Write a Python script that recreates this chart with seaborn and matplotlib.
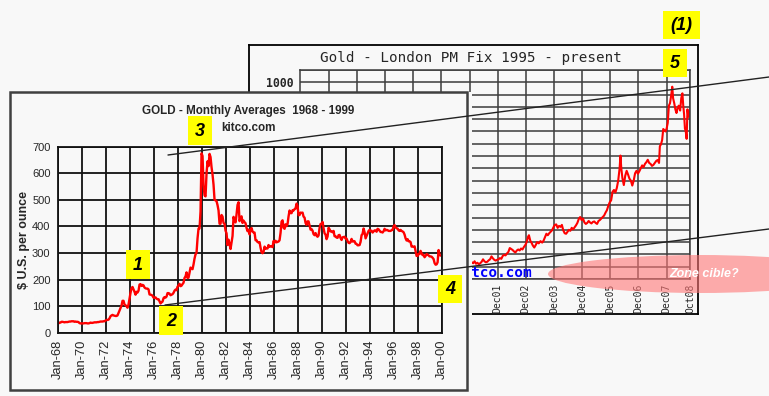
import numpy as np
import seaborn as sns
import matplotlib.pyplot as plt
from matplotlib.patches import Rectangle, Ellipse

# left chart: kitco monthly averages, Jan 1968 - Dec 1999 ($/oz)
gold_1968_1979 = [
    35, 35, 38, 38, 41, 41, 40, 39, 40, 40, 40, 41,
    42, 42, 43, 43, 43, 41, 42, 41, 41, 40, 36, 35,
    35, 35, 35, 36, 36, 36, 35, 35, 36, 38, 37, 37,
    38, 39, 39, 39, 40, 40, 41, 42, 42, 42, 43, 43,
    46, 48, 48, 49, 54, 62, 65, 67, 65, 64, 63, 63,
    65, 74, 84, 91, 102, 120, 120, 106, 103, 100, 94, 106,
    129, 150, 168, 172, 163, 154, 143, 154, 151, 158, 181, 183,
    176, 180, 178, 170, 167, 166, 166, 163, 144, 143, 142, 139,
    132, 131, 133, 128, 126, 126, 118, 110, 114, 117, 130, 134,
    132, 136, 149, 149, 147, 141, 143, 145, 150, 158, 162, 160,
    173, 178, 184, 175, 177, 183, 188, 206, 212, 227, 206, 207,
    227, 245, 242, 239, 257, 279, 295, 301, 355, 392, 392, 456,
]
gold_1980_1989 = [
    675, 665, 555, 517, 513, 600, 645, 627, 673, 661, 623, 595,
    557, 500, 498, 495, 480, 460, 410, 410, 443, 437, 413, 410,
    384, 374, 330, 350, 334, 315, 340, 364, 436, 422, 415, 445,
    481, 491, 420, 432, 438, 413, 422, 416, 412, 394, 382, 388,
    370, 386, 394, 381, 377, 377, 348, 348, 341, 340, 341, 320,
    303, 299, 304, 324, 316, 317, 317, 330, 323, 325, 325, 322,
    345, 339, 346, 340, 342, 343, 348, 376, 418, 423, 395, 391,
    408, 401, 409, 438, 460, 450, 450, 461, 460, 465, 467, 486,
    477, 442, 443, 452, 451, 452, 437, 433, 413, 406, 419, 419,
    404, 388, 390, 384, 371, 367, 375, 365, 361, 366, 394, 409,
]
gold_1990_1999 = [
    410, 417, 393, 374, 369, 352, 362, 395, 389, 381, 381, 378,
    383, 363, 363, 358, 357, 367, 368, 356, 349, 359, 360, 361,
    354, 354, 345, 338, 337, 341, 353, 343, 345, 344, 335, 334,
    329, 329, 330, 342, 367, 372, 392, 378, 355, 364, 374, 383,
    387, 382, 384, 377, 381, 385, 385, 380, 391, 389, 384, 379,
    379, 377, 382, 391, 385, 387, 386, 383, 383, 383, 386, 387,
    400, 405, 396, 393, 392, 385, 383, 387, 383, 381, 378, 369,
    355, 347, 352, 344, 344, 341, 324, 324, 323, 325, 306, 289,
    289, 297, 296, 308, 299, 292, 293, 284, 289, 296, 294, 291,
    287, 287, 286, 282, 277, 262, 256, 257, 265, 311, 293, 290,
]
left_years = list(range(1968, 2001, 2))
left_labels = ['Jan-%02d' % (y % 100) for y in left_years]

# right chart: London PM fix, 1995 - Oct 2008
fix_2000 = [284, 300, 286, 280, 275, 286, 282, 275, 273, 270, 266, 272]
fix_recent_time = [
    2001.00, 2001.05, 2001.10, 2001.15, 2001.20, 2001.25, 2001.30, 2001.35, 2001.40, 2001.45,
    2001.50, 2001.55, 2001.60, 2001.65, 2001.70, 2001.75, 2001.80, 2001.85, 2001.90, 2001.95,
    2002.00, 2002.05, 2002.10, 2002.15, 2002.20, 2002.25, 2002.30, 2002.35, 2002.40, 2002.45,
    2002.50, 2002.55, 2002.60, 2002.65, 2002.70, 2002.75, 2002.80, 2002.85, 2002.90, 2002.95,
    2003.00, 2003.03, 2003.08, 2003.12, 2003.17, 2003.22, 2003.27, 2003.32, 2003.38, 2003.44,
    2003.50, 2003.55, 2003.60, 2003.65, 2003.70, 2003.75, 2003.80, 2003.85, 2003.90, 2003.95,
    2004.00, 2004.05, 2004.10, 2004.15, 2004.20, 2004.25, 2004.30, 2004.35, 2004.40, 2004.45,
    2004.50, 2004.55, 2004.60, 2004.65, 2004.70, 2004.75, 2004.80, 2004.85, 2004.90, 2004.95,
    2005.00, 2005.05, 2005.10, 2005.15, 2005.20, 2005.25, 2005.30, 2005.35, 2005.40, 2005.45,
    2005.50, 2005.55, 2005.60, 2005.65, 2005.70, 2005.75, 2005.80, 2005.85, 2005.90, 2005.95,
    2006.00, 2006.05, 2006.10, 2006.15, 2006.20, 2006.25, 2006.28, 2006.31, 2006.35, 2006.40,
    2006.45, 2006.50, 2006.55, 2006.60, 2006.65, 2006.70, 2006.75, 2006.80, 2006.85, 2006.90,
    2006.95, 2007.00, 2007.05, 2007.10, 2007.15, 2007.20, 2007.25, 2007.30, 2007.35, 2007.40,
    2007.45, 2007.50, 2007.55, 2007.60, 2007.65, 2007.68, 2007.72, 2007.76, 2007.80, 2007.84,
    2007.88, 2007.92, 2007.96, 2008.00, 2008.04, 2008.08, 2008.12, 2008.15, 2008.19, 2008.23,
    2008.27, 2008.31, 2008.35, 2008.40, 2008.44, 2008.48, 2008.51, 2008.54, 2008.57, 2008.60,
    2008.63, 2008.66, 2008.69, 2008.71,
]
fix_recent_price = [
    268, 264, 272, 262, 266, 260, 264, 270, 280, 272,
    268, 270, 276, 280, 292, 284, 278, 275, 278, 280,
    285, 282, 294, 298, 296, 304, 310, 326, 322, 318,
    312, 308, 316, 320, 316, 324, 320, 330, 338, 350,
    372, 378, 355, 348, 336, 328, 338, 350, 345, 354,
    348, 356, 370, 384, 378, 386, 392, 398, 410, 420,
    422, 408, 416, 412, 420, 398, 386, 384, 392, 400,
    396, 408, 402, 410, 418, 428, 444, 452, 440, 446,
    430, 424, 428, 436, 430, 426, 432, 434, 428, 424,
    436, 440, 446, 452, 458, 470, 480, 498, 512, 520,
    555, 562, 552, 570, 600, 650, 702, 650, 610, 582,
    620, 640, 625, 608, 600, 580, 600, 630, 640, 628,
    638, 650, 662, 655, 668, 675, 685, 672, 668, 660,
    664, 672, 680, 684, 672, 740, 748, 765, 810, 805,
    800, 812, 835, 905, 915, 945, 982, 935, 915, 890,
    875, 895, 905, 885, 935, 955, 905, 870, 812, 800,
    770, 890, 860, 880,
]
fix_tick_pos = [1995.92 + k for k in range(13)] + [2008.75]
fix_tick_labels = ['Dec%02d' % ((95 + k) % 100) for k in range(13)] + ['Oct08']

W, H = 769, 396
BG = '#f8f8f8'
MONO = 'DejaVu Sans Mono'


def rect(x0, y0, x1, y1):
    # pixel box, origin top-left -> figure fraction
    return [x0 / W, 1 - y1 / H, (x1 - x0) / W, (y1 - y0) / H]


sns.set_style('white')
plt.rcParams['font.family'] = ['Liberation Sans', 'DejaVu Sans']

fig = plt.figure(figsize=(W / 100, H / 100), dpi=100, facecolor=BG)

# ---------------- right chart (behind) ----------------
frame_r = fig.add_axes(rect(249, 45, 698, 314))
frame_r.set_facecolor(BG)
frame_r.set_xticks([])
frame_r.set_yticks([])
for s in frame_r.spines.values():
    s.set_color('black')
    s.set_linewidth(1.3)
fig.text(471 / W, 1 - 58 / H, 'Gold - London PM Fix 1995 - present',
         ha='center', va='center', family=MONO, size=10.3)

ax_r = fig.add_axes(rect(300, 70, 690, 279))
ax_r.set_facecolor('none')
fix_time = list(1995 + np.arange(72) / 12) + fix_recent_time
fix_price = gold_1990_1999[60:] + fix_2000 + fix_recent_price
sns.lineplot(x=fix_time, y=fix_price, ax=ax_r, color='red', lw=1.5)
ax_r.set_xlim(1994.9, 2008.75)
ax_r.set_ylim(200, 1050)
yt = list(range(200, 1051, 50))
ax_r.set_yticks(yt)
# only the top label shows; the rest sit behind the 1968-1999 chart
ax_r.set_yticklabels(['1000' if v == 1000 else '' for v in yt],
                     family=MONO, size=8.3, weight='bold')
ax_r.set_xticks(fix_tick_pos)
ax_r.set_xticklabels(fix_tick_labels, rotation=90, family=MONO, size=7.0)
ax_r.grid(True, color='#3c3c3c', lw=1.1)
ax_r.tick_params(length=3, width=1, color='#3c3c3c', pad=1.5)
ax_r.tick_params(axis='x', length=2, pad=1)
for s in ax_r.spines.values():
    s.set_color('#3c3c3c')
    s.set_linewidth(1.1)
ax_r.set_xlabel('')
ax_r.set_ylabel('')
ax_r.text(0.595, 0.028, 'kitco.com', transform=ax_r.transAxes, ha='right',
          va='center', color='blue', family=MONO, size=10.3, weight='bold')

# ---------------- left chart (front) ----------------
frame_l = fig.add_axes(rect(10, 92, 472, 390))
frame_l.set_facecolor(BG)
frame_l.set_xticks([])
frame_l.set_yticks([])
for s in frame_l.spines.values():
    s.set_visible(False)
frame_l.add_patch(Rectangle((0, 0), (467 - 10) / (472 - 10), 1, transform=frame_l.transAxes,
                            fill=False, ec='#404040', lw=1.8, clip_on=False))
fig.text(248 / W, 1 - 111 / H, 'GOLD - Monthly Averages  1968 - 1999',
         ha='center', va='center', size=8.4, weight='bold')
fig.text(248 / W, 1 - 128 / H, 'kitco.com', ha='center', va='center', size=8.4, weight='bold')

ax_l = fig.add_axes(rect(57.5, 146.7, 441.6, 332.7))
ax_l.set_facecolor('none')
gold_monthly = gold_1968_1979 + gold_1980_1989 + gold_1990_1999
month_time = 1968 + np.arange(len(gold_monthly)) / 12
sns.lineplot(x=month_time, y=gold_monthly, ax=ax_l, color='red', lw=1.7)
ax_l.set_xlim(1968, 2000)
ax_l.set_ylim(0, 700)
ax_l.set_yticks(range(0, 701, 100))
ax_l.set_xticks(left_years)
ax_l.set_xticklabels(left_labels, rotation=90, size=9.3)
ax_l.tick_params(axis='y', labelsize=8)
ax_l.tick_params(length=3, width=1.2, color='black', pad=2)
ax_l.grid(True, color='#111111', lw=1.3)
for s in ax_l.spines.values():
    s.set_color('#111111')
    s.set_linewidth(1.3)
ax_l.set_xlabel('')
ax_l.set_ylabel('$ U.S. per ounce', size=9, weight='bold')
ax_l.yaxis.set_label_coords(-0.0716, 0.5)

# ---------------- annotations ----------------
ov = fig.add_axes([0, 0, 1, 1])
ov.set_xlim(0, W)
ov.set_ylim(H, 0)
ov.axis('off')
ov.patch.set_alpha(0)

ov.add_patch(Ellipse((700, 274), 304, 38, fc='#ff7777', alpha=0.6, ec='none'))
ov.text(704, 274, 'Zone cible?', color='white', ha='center', va='center',
        size=9, weight='bold', style='italic')

ov.plot([168, 769], [155, 77], color='#222222', lw=1)
ov.plot([165, 769], [305, 229], color='#222222', lw=1)

boxes = [('(1)', 663, 11, 700, 39), ('5', 663, 49, 687, 77), ('3', 188, 116, 212, 145),
         ('1', 126, 250, 150, 279), ('2', 159, 306, 183, 335), ('4', 438, 275, 462, 303)]
for label, x0, y0, x1, y1 in boxes:
    ov.add_patch(Rectangle((x0, y0), x1 - x0, y1 - y0, fc='#ffff00', ec='none'))
    ov.text((x0 + x1) / 2, (y0 + y1) / 2 + 1, label, ha='center', va='center',
            size=13, weight='bold', style='italic', color='black')

fig.savefig('out.png', dpi=100, facecolor=BG)
